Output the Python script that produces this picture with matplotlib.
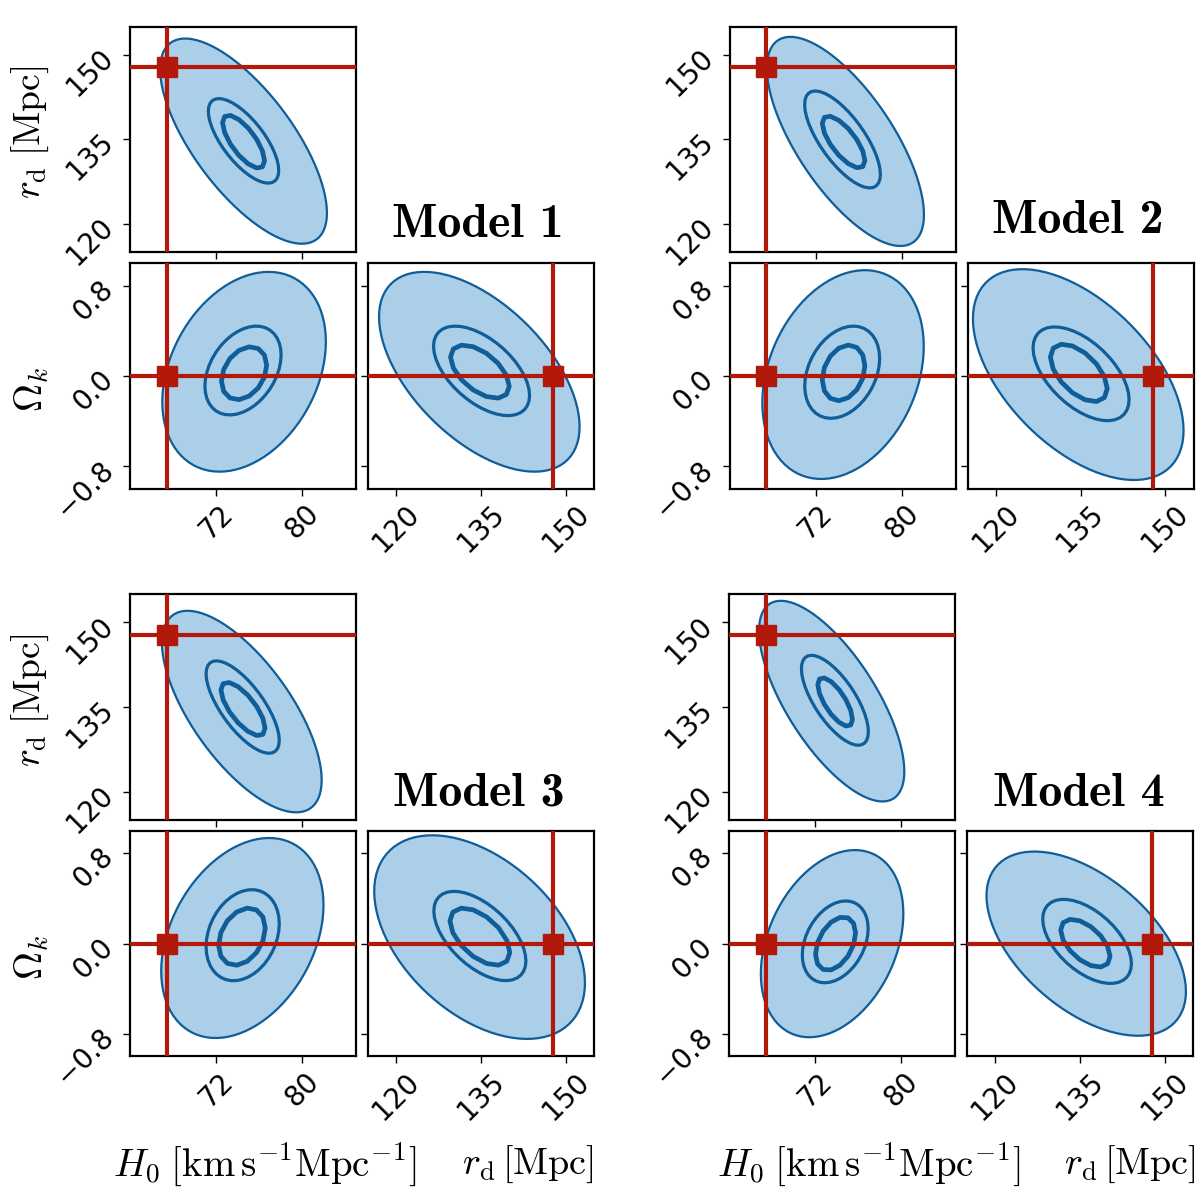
import numpy as np
import matplotlib
matplotlib.use("Agg")
import matplotlib.pyplot as plt
from matplotlib.patches import Polygon

plt.rcParams['mathtext.fontset'] = 'cm'
plt.rcParams['font.family'] = ['DejaVu Sans']

# ---------------- data ----------------
MODELS = ["Model 1", "Model 2", "Model 3", "Model 4"]

TRUTH_H0 = 67.4
TRUTH_RD = 147.8
TRUTH_OK = 0.0

H0_LIM = (64.0, 85.0)
RD_LIM = (115.0, 155.0)
OK_LIM = (-1.0, 1.0)

H0_TICKS = [72, 80]
RD_TICKS = [120, 135, 150]
OK_TICKS = [-0.8, 0.0, 0.8]

# contour ellipses:
# [centre_x, centre_y, half-extent_x, half-extent_y, correlation]
# order per model: outer (filled), middle, inner
ELL_H0_RD = [
    [[74.55, 134.7, 7.75, 18.2, -0.70], [74.55, 134.75, 3.27, 7.5, -0.70], [74.55, 134.6, 1.95, 4.7, -0.72]],
    [[74.77, 134.65, 7.3, 18.55, -0.70], [74.5, 135.0, 3.52, 8.6, -0.72], [74.6, 134.55, 1.98, 4.6, -0.72]],
    [[74.39, 134.2, 7.42, 17.88, -0.68], [74.47, 135.0, 3.4, 8.2, -0.72], [74.5, 134.65, 2.05, 4.74, -0.72]],
    [[73.54, 136.05, 6.75, 17.8, -0.70], [73.84, 136.2, 3.11, 7.98, -0.70], [73.86, 135.9, 1.61, 4.3, -0.72]],
]
ELL_H0_OK = [
    [[74.6, 0.038, 7.6, 0.886, 0.30], [74.5, 0.049, 3.54, 0.394, 0.35], [74.6, 0.025, 2.1, 0.235, 0.30]],
    [[74.55, 0.013, 7.5, 0.926, 0.27], [74.47, 0.034, 3.48, 0.409, 0.30], [74.6, 0.028, 1.98, 0.247, 0.25]],
    [[74.44, 0.05, 7.54, 0.887, 0.33], [74.47, 0.075, 3.4, 0.404, 0.25], [74.4, 0.062, 2.17, 0.254, 0.30]],
    [[73.58, 0.0, 6.62, 0.83, 0.32], [73.87, 0.016, 3.06, 0.363, 0.32], [73.9, 0.0, 1.86, 0.237, 0.40]],
]
ELL_RD_OK = [
    [[134.7, 0.038, 17.75, 0.886, -0.55], [135.1, 0.046, 8.5, 0.397, -0.55], [134.8, 0.039, 5.2, 0.236, -0.55]],
    [[134.6, 0.013, 18.64, 0.935, -0.53], [135.1, 0.02, 8.5, 0.416, -0.55], [134.7, 0.028, 5.03, 0.255, -0.55]],
    [[134.75, 0.058, 18.65, 0.903, -0.45], [134.8, 0.068, 8.15, 0.396, -0.56], [134.8, 0.062, 5.3, 0.254, -0.55]],
    [[136.1, 0.0, 17.65, 0.817, -0.52], [136.25, 0.02, 7.85, 0.373, -0.53], [135.95, 0.004, 4.37, 0.212, -0.55]],
]

# ---------------- style ----------------
FILL = '#abcfe8'
EDGE = '#0f5d99'
RED = '#b3190b'
LW_LEVELS = [1.6, 2.3, 3.4]
NPTS = [90, 40, 14]

W, H = 1200, 1200
fig = plt.figure(figsize=(12, 12), dpi=100)


def px_axes(x0, y0, w, h):
    return fig.add_axes([x0 / W, 1 - (y0 + h) / H, w / W, h / H])


def ellipse_xy(e, n):
    cx, cy, hx, hy, r = e
    t = np.linspace(0, 2 * np.pi, n, endpoint=False)
    x = cx + hx * np.cos(t)
    y = cy + hy * (r * np.cos(t) + np.sqrt(1 - r * r) * np.sin(t))
    return np.column_stack([x, y])


def fmt_tick(v):
    s = ("%.1f" % v) if isinstance(v, float) else str(v)
    return s.replace('-', '\u2212')


def draw_panel(ax, ells, tx, ty, xlim, ylim, xt, yt, xlab, ylab):
    for lev, e in enumerate(ells):
        xy = ellipse_xy(e, NPTS[lev])
        if lev == 0:
            ax.add_patch(Polygon(xy, closed=True, facecolor=FILL, edgecolor=EDGE,
                                 lw=LW_LEVELS[lev], zorder=1, joinstyle='round'))
        else:
            ax.add_patch(Polygon(xy, closed=True, fill=False, edgecolor=EDGE,
                                 lw=LW_LEVELS[lev], zorder=2, joinstyle='round'))
    ax.axvline(tx, color=RED, lw=3.0, zorder=3)
    ax.axhline(ty, color=RED, lw=3.0, zorder=3)
    ax.plot([tx], [ty], 's', color=RED, ms=14, zorder=4)
    ax.set_xlim(*xlim)
    ax.set_ylim(*ylim)
    ax.set_xticks(xt)
    ax.set_yticks(yt)
    ax.tick_params(direction='out', length=5, width=1.0, labelsize=20, pad=3)
    if xlab:
        ax.set_xticklabels([fmt_tick(v) for v in xt], rotation=45)
    else:
        ax.set_xticklabels([])
    if ylab:
        ax.set_yticklabels([fmt_tick(v) for v in yt], rotation=45)
    else:
        ax.set_yticklabels([])
    for s in ax.spines.values():
        s.set_linewidth(1.6)


ORIGINS = [(130, 26.7), (729.5, 26.7), (130, 594.3), (729.0, 594.3)]
PW, PH = 226, 225.5
DX, DY = 238, 236.6
TITLE_POS = [(478, 237), (1078, 233), (479, 805), (1079, 806)]

for m, name in enumerate(MODELS):
    ox, oy = ORIGINS[m]
    a_top = px_axes(ox, oy, PW, PH)
    draw_panel(a_top, ELL_H0_RD[m], TRUTH_H0, TRUTH_RD, H0_LIM, RD_LIM,
               H0_TICKS, RD_TICKS, False, True)
    a_bl = px_axes(ox, oy + DY, PW, PH)
    draw_panel(a_bl, ELL_H0_OK[m], TRUTH_H0, TRUTH_OK, H0_LIM, OK_LIM,
               H0_TICKS, OK_TICKS, True, True)
    a_br = px_axes(ox + DX, oy + DY, PW, PH)
    draw_panel(a_br, ELL_RD_OK[m], TRUTH_RD, TRUTH_OK, RD_LIM, OK_LIM,
               RD_TICKS, OK_TICKS, True, False)

    tx, ty = TITLE_POS[m]
    fig.text(tx / W, 1 - ty / H, name, family='cmb10',
             fontsize=34.5, ha='center', va='baseline')

    if m % 2 == 0:
        fig.text(30 / W, 1 - (oy + 106) / H, r'$r_{\rm d}\;[\mathrm{Mpc}]$',
                 fontsize=27, rotation=90, ha='center', va='center')
        fig.text(32 / W, 1 - (oy + 363) / H, r'$\Omega_k$',
                 fontsize=28, rotation=90, ha='center', va='center')
    if m >= 2:
        lx = 265 if m == 2 else 869
        rx = 528 if m == 2 else 1130
        fig.text(lx / W, 1 - 1164 / H, r'$H_0\;[\mathrm{km\,s^{-1}Mpc^{-1}}]$',
                 fontsize=28, ha='center', va='center')
        fig.text(rx / W, 1 - 1164 / H, r'$r_{\rm d}\,[\mathrm{Mpc}]$',
                 fontsize=27.5, ha='center', va='center')

fig.savefig('out.png', dpi=100)
